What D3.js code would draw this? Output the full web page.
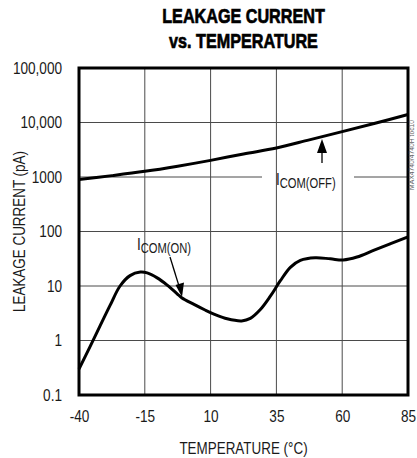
<!DOCTYPE html>
<html><head><meta charset="utf-8">
<script src="https://cdn.jsdelivr.net/npm/d3@7"></script>
<style>
body{margin:0;background:#fff;}
text{font-family:"Liberation Sans",Arial,sans-serif;}
</style></head>
<body><svg id="c" width="417" height="458"></svg>
<script>
const titleLines = ["LEAKAGE CURRENT", "vs. TEMPERATURE"];
const xTicks = [-40, -15, 10, 35, 60, 85];
const yTicks = [0.1, 1, 10, 100, 1000, 10000, 100000];
const yTickLabels = ["0.1", "1", "10", "100", "1000", "10,000", "100,000"];
const offTemps = [-40, -27.5, -15, -2.5, 10, 22.5, 35, 47.5, 60, 72.5, 85];
const offValues = [900, 1060, 1270, 1580, 2020, 2650, 3400, 4800, 6800, 9700, 14000];
const onTemps = [-40, -35.8, -32, -28.2, -24.4, -20.6, -16.7, -14.1, -10.3, -6.5, -2.7, -1.0, 3.7, 7.9, 12, 16.3, 21.8, 25.1, 28.9, 32.7, 36.5, 40.3, 44.1, 49.7, 55.5, 60.4, 65.6, 71.9, 78.4, 85];
const onValues = [0.3, 0.77, 1.85, 4.4, 10, 15.5, 18, 17.4, 14.1, 10.4, 7.2, 6.1, 4.6, 3.63, 2.95, 2.5, 2.29, 2.55, 3.7, 6.5, 12.5, 22, 29.5, 33, 31.5, 30, 34, 45, 60, 80];

const svg = d3.select("#c");
const L = 79, R = 408, T = 68, B = 395;
const x = d3.scaleLinear().domain([-40, 85]).range([L, R]);
const y = d3.scaleLog().domain([0.1, 100000]).range([B, T]);
const INK = "#1a1a1a";

function ctext(xp, yp, s, size, sx, anchor, weight) {
  return svg.append("text").attr("transform", `translate(${xp},${yp}) scale(${sx},1)`)
    .attr("text-anchor", anchor || "start").attr("font-size", size)
    .attr("font-weight", weight || "normal").attr("fill", INK).text(s);
}

// grid
const grid = svg.append("g").attr("stroke", "#4a4a4a").attr("stroke-width", 1);
xTicks.slice(1, -1).forEach(t => grid.append("line").attr("x1", x(t)).attr("x2", x(t)).attr("y1", T).attr("y2", B));
yTicks.slice(1, -1).forEach(t => {
  if (t === 1000) {
    grid.append("line").attr("x1", L).attr("x2", 262).attr("y1", y(t)).attr("y2", y(t));
    grid.append("line").attr("x1", 354).attr("x2", R).attr("y1", y(t)).attr("y2", y(t));
  } else {
    grid.append("line").attr("x1", L).attr("x2", R).attr("y1", y(t)).attr("y2", y(t));
  }
});

// axes labels
const xAxis = d3.axisBottom(x).tickValues(xTicks).tickSize(0).tickPadding(16).tickFormat(d => d);
const gx = svg.append("g").attr("transform", `translate(0,${B})`).call(xAxis);
gx.select(".domain").remove();
gx.selectAll("text").attr("font-size", 16).attr("fill", INK).attr("transform", "scale(0.85,1)")
  .style("font-family", '"Liberation Sans",Arial,sans-serif');

const yAxis = d3.axisLeft(y).tickValues(yTicks).tickSize(0).tickPadding(20).tickFormat((d, i) => yTickLabels[i]);
const gy = svg.append("g").attr("transform", `translate(${L},0)`).call(yAxis);
gy.select(".domain").remove();
gy.selectAll("text").attr("font-size", 16).attr("fill", INK).attr("transform", "scale(0.85,1)")
  .style("font-family", '"Liberation Sans",Arial,sans-serif');

// lines
const line = d3.line().x(d => x(d[0])).y(d => y(d[1])).curve(d3.curveCatmullRom.alpha(0.5));
svg.append("path").datum(offTemps.map((t, i) => [t, offValues[i]])).attr("d", line)
  .attr("fill", "none").attr("stroke", "#000").attr("stroke-width", 3);
svg.append("path").datum(onTemps.map((t, i) => [t, onValues[i]])).attr("d", line)
  .attr("fill", "none").attr("stroke", "#000").attr("stroke-width", 3).attr("stroke-linejoin", "round");

// frame
svg.append("rect").attr("x", L).attr("y", T).attr("width", R - L).attr("height", B - T)
  .attr("fill", "none").attr("stroke", "#000").attr("stroke-width", 3);

// title
titleLines.forEach((s, i) => ctext((L + R) / 2, 23 + i * 25, s, 21, 0.77, "middle", "bold")
  .attr("fill", "#000").attr("stroke", "#000").attr("stroke-width", 0.7));

// axis titles
ctext((L + R) / 2, 454, "TEMPERATURE (°C)", 16, 0.84, "middle");
svg.append("text").attr("transform", `translate(25,${(T + B) / 2}) rotate(-90) scale(0.84,1)`).attr("text-anchor", "middle")
  .attr("font-size", 16).attr("fill", INK).text("LEAKAGE CURRENT (pA)");

// watermark
svg.append("text").attr("transform", `translate(414,190) rotate(-90) scale(0.85,1)`).attr("text-anchor", "start")
  .attr("font-size", 8).attr("fill", "#666").text("MAX4740/4740H toc10");

// annotations
function label(xp, yp, main, sub, sx) {
  const t = svg.append("text").attr("transform", `translate(${xp},${yp}) scale(${sx},1)`)
    .attr("font-size", 17).attr("fill", INK);
  t.append("tspan").text(main);
  t.append("tspan").attr("font-size", 14).attr("dy", 3).text(sub);
}
label(137, 250, "I", "COM(ON)", 0.8);
label(276, 185, "I", "COM(OFF)", 0.8);

svg.append("line").attr("x1", 170).attr("y1", 257).attr("x2", 179).attr("y2", 286)
  .attr("stroke", "#000").attr("stroke-width", 1.3);
svg.append("path").attr("d", "M182,297 L175.5,285 L184,282.5 Z").attr("fill", "#000");

svg.append("line").attr("x1", 322).attr("y1", 163).attr("x2", 322).attr("y2", 150)
  .attr("stroke", "#000").attr("stroke-width", 1.3);
svg.append("path").attr("d", "M322,139 L317,153 L327,153 Z").attr("fill", "#000");
</script></body></html>
